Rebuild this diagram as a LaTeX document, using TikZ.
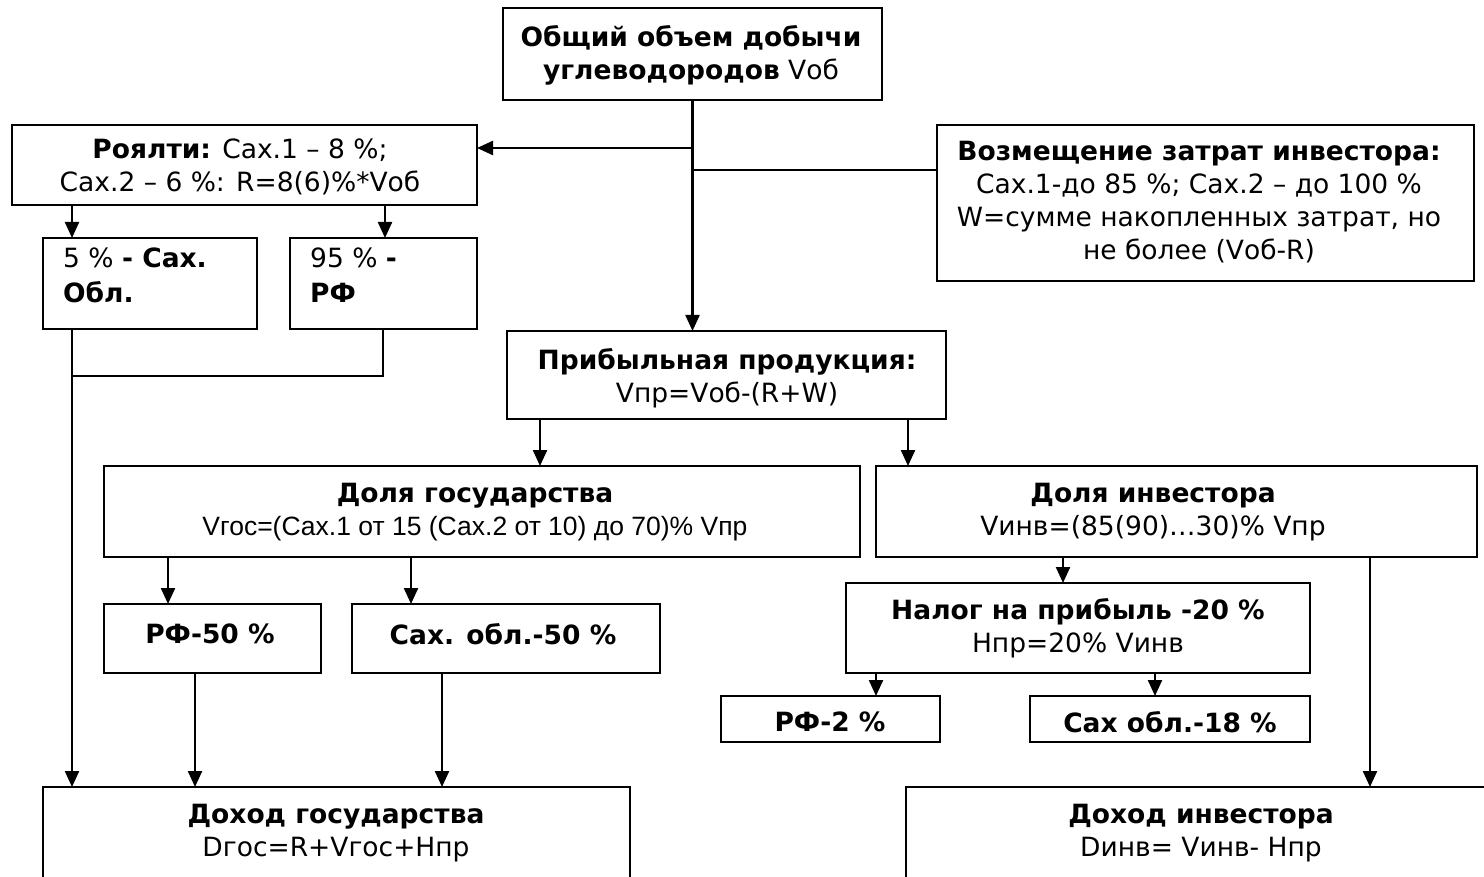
\documentclass[tikz,border=0pt]{standalone}
\usepackage{fontspec}
\setmainfont{DejaVu Sans}
\newfontfamily\arialfont{Liberation Sans}
\usetikzlibrary{arrows.meta}
\begin{document}
\begin{tikzpicture}[x=1pt,y=-1pt,
  box/.style={draw,line width=2.3pt,inner sep=0pt,outer sep=0pt},
  txt/.style={inner sep=0pt,align=center,font=\fontsize{26.5}{33}\selectfont},
  txtl/.style={inner sep=0pt,align=left,font=\fontsize{26.5}{35}\selectfont,anchor=north west},
  ln/.style={line width=2.3pt},
  arr/.style={line width=2.3pt,-{Triangle[length=16pt,width=14pt]}}]
\useasboundingbox (0,0) rectangle (1484,877);
% boxes
\node[box,minimum width=379pt,minimum height=92pt] (top) at (692.5,54) {};
\node[box,minimum width=465pt,minimum height=80pt] (roy) at (244.5,165) {};
\node[box,minimum width=537pt,minimum height=156pt] (voz) at (1205.5,203) {};
\node[box,minimum width=214pt,minimum height=91pt] (p5) at (150,283.5) {};
\node[box,minimum width=187pt,minimum height=91pt] (p95) at (383.5,283.5) {};
\node[box,minimum width=439pt,minimum height=88pt] (prib) at (726.5,375) {};
\node[box,minimum width=756pt,minimum height=91pt] (dg) at (482,511.5) {};
\node[box,minimum width=601pt,minimum height=91pt] (di) at (1176.5,511.5) {};
\node[box,minimum width=217pt,minimum height=69pt] (rf50) at (212.5,638.5) {};
\node[box,minimum width=308pt,minimum height=69pt] (so50) at (506,638.5) {};
\node[box,minimum width=464pt,minimum height=90pt] (nal) at (1078,628) {};
\node[box,minimum width=219pt,minimum height=46pt] (rf2) at (830.5,719) {};
\node[box,minimum width=280pt,minimum height=46pt] (so18) at (1170,719) {};
\node[box,minimum width=587pt,minimum height=113pt] (dohg) at (336.5,843.5) {};
\node[box,minimum width=594pt,minimum height=113pt] (dohi) at (1203,843.5) {};
% texts
\node[txt] (ttop) at (691,55) {\textbf{Общий объем добычи}\\\textbf{углеводородов} Vоб};
\node[txt] (troy) at (240,167) {\textbf{Роялти:} Сах.1 – 8 \%;\\Сах.2 – 6 \%: R=8(6)\%*Vоб};
\node[txt] (tvoz) at (1199,202) {\textbf{Возмещение затрат инвестора:}\\Сах.1-до 85 \%; Сах.2 – до 100 \%\\W=сумме накопленных затрат, но\\не более (Vоб-R)};
\node[txtl] (tp5) at (63,248) {5 \% \textbf{- Сах.}\\\textbf{Обл.}};
\node[txtl] (tp95) at (310,248) {95 \% \textbf{-}\\\textbf{РФ}};
\node[txt] (tprib) at (727,378) {\textbf{Прибыльная продукция:}\\Vпр=Vоб-(R+W)};
\node[txt] (tdg) at (475,512) {\textbf{Доля государства}\\{\arialfont\fontsize{26.5}{33}\selectfont Vгос=(Сах.1 от 15 (Сах.2 от 10) до 70)\% Vпр}};
\node[txt] (tdi) at (1153,512) {\textbf{Доля инвестора}\\Vинв=(85(90)…30)\% Vпр};
\node[txt] (trf50) at (210,634) {\textbf{РФ-50 \%}};
\node[txt] (tso50) at (503,634) {\textbf{Сах. обл.-50 \%}};
\node[txt] (tnal) at (1078,628) {\textbf{Налог на прибыль -20 \%}\\Нпр=20\% Vинв};
\node[txt] (trf2) at (830,722) {\textbf{РФ-2 \%}};
\node[txt] (tso18) at (1170,722) {\textbf{Сах обл.-18 \%}};
\node[txt] (tdohg) at (336,833) {\textbf{Доход государства}\\Dгос=R+Vгос+Нпр};
\node[txt] (tdohi) at (1201,833) {\textbf{Доход инвестора}\\Dинв= Vинв- Нпр};
% connectors
\draw[arr] (top.south) -- (prib.north -| top.south);
\draw[arr] ([yshift=-48pt]top.south) -- ([yshift=17pt]roy.east);
\draw[ln] ([yshift=-70pt]top.south) -- ([yshift=33pt]voz.west);
\draw[arr] ([xshift=60pt]roy.south west) -- ([xshift=29pt]p5.north west);
\draw[arr] ([xshift=373pt]roy.south west) -- ([xshift=95pt]p95.north west);
\draw[arr] ([xshift=29pt]p5.south west) -- ([xshift=29pt]dohg.north west);
\draw[ln] ([xshift=93pt]p95.south west) |- ([xshift=29pt,yshift=-47pt]p5.south west);
\draw[arr] ([xshift=33pt]prib.south west) -- ([xshift=436pt]dg.north west);
\draw[arr] ([xshift=401pt]prib.south west) -- ([xshift=32pt]di.north west);
\draw[arr] ([xshift=64pt]dg.south west) -- ([xshift=64pt]rf50.north west);
\draw[arr] ([xshift=307pt]dg.south west) -- ([xshift=59pt]so50.north west);
\draw[arr] ([xshift=91pt]rf50.south west) -- ([xshift=152pt]dohg.north west);
\draw[arr] ([xshift=90pt]so50.south west) -- ([xshift=399pt]dohg.north west);
\draw[arr] ([xshift=187pt]di.south west) -- ([xshift=217pt]nal.north west);
\draw[arr] ([xshift=494pt]di.south west) -- ([xshift=464pt]dohi.north west);
\draw[arr] ([xshift=30pt]nal.south west) -- ([xshift=155pt]rf2.north west);
\draw[arr] ([xshift=309pt]nal.south west) -- ([xshift=125pt]so18.north west);
\end{tikzpicture}
\end{document}
